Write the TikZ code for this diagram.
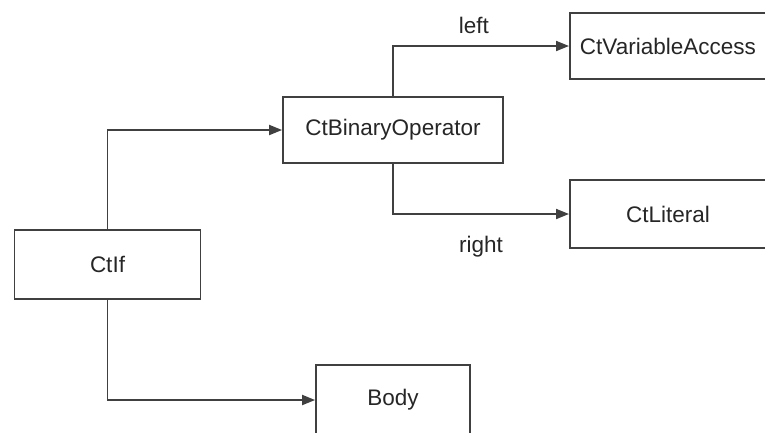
\documentclass[tikz,border=0pt]{standalone}
\usepackage{fontspec}
\setmainfont{Liberation Sans}
\usetikzlibrary{arrows.meta}
\begin{document}
\begin{tikzpicture}[x=1pt,y=-1pt,
  font=\fontsize{22.5}{26}\selectfont,
  box/.style={draw=black!75, line width=1.8pt, rectangle, inner sep=0pt, text=black!85},
  conn/.style={draw=black!75, line width=1.9pt, -{Triangle[length=13pt,width=10pt]}},
  lbl/.style={text=black!85, inner sep=6pt}]
  \useasboundingbox[fill=white] (0,0) rectangle (765,432);
  \clip (0,0) rectangle (765,432);

  % expression tree nodes
  \node[box, minimum width=186pt, minimum height=69pt] (ctif)   at (107.5,264.5) {CtIf};
  \node[box, minimum width=220pt, minimum height=66pt] (binop)  at (393,130)     {CtBinaryOperator};
  \node[box, minimum width=204pt, minimum height=66pt, anchor=west] (varacc) at (569,46)  {\hspace*{-8pt}CtVariableAccess};
  \node[box, minimum width=204pt, minimum height=68pt, anchor=west] (lit)    at (569,214) {\hspace*{-8pt}CtLiteral};
  \node[box, minimum width=154pt, minimum height=70pt] (body)   at (393,400)     {Body};

  % right-angled connectors
  \draw[conn] (ctif.north) |- (binop.west);
  \draw[conn] (ctif.south) |- (body.west);
  \draw[conn] (binop.north) |- node[lbl, pos=0.73, above=5pt] {left} (varacc.west);
  \draw[conn] (binop.south) |- node[lbl, pos=0.75, below=15pt] {right} (lit.west);
\end{tikzpicture}
\end{document}
